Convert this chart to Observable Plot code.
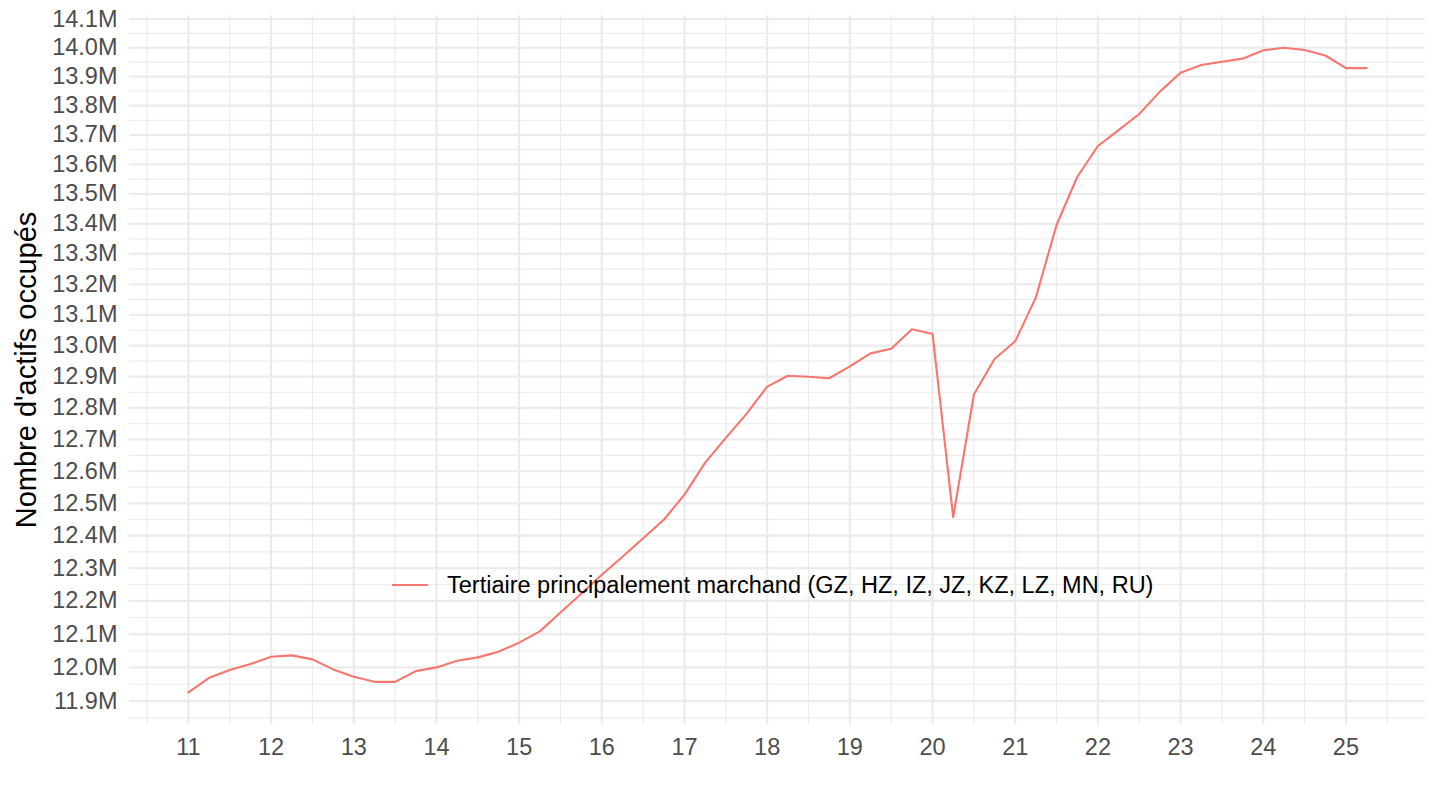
<!DOCTYPE html>
<html>
<head>
<meta charset="utf-8">
<script src="https://cdn.jsdelivr.net/npm/d3@7"></script>
<script src="https://cdn.jsdelivr.net/npm/@observablehq/plot@0.6"></script>
<style>
  html, body { margin: 0; padding: 0; background: #fff; }
  #wrap { position: relative; width: 1440px; height: 810px; font-family: "Liberation Sans", Arial, Helvetica, sans-serif; }
  #legend { position: absolute; left: 392px; top: 570px; height: 30px; display: flex; align-items: center; font-size: 23.5px; color: #000; white-space: nowrap; }
  #legend svg { margin-right: 19px; }
</style>
</head>
<body>
<div id="wrap">
  <div id="chart"></div>
  <div id="legend"></div>
</div>
<script>
// Quarterly dates (decimal years) and employment values (millions)
const dates = [
  2011.00, 2011.25, 2011.50, 2011.75, 2012.00, 2012.25, 2012.50, 2012.75,
  2013.00, 2013.25, 2013.50, 2013.75, 2014.00, 2014.25, 2014.50, 2014.75,
  2015.00, 2015.25, 2015.50, 2015.75, 2016.00, 2016.25, 2016.50, 2016.75,
  2017.00, 2017.25, 2017.50, 2017.75, 2018.00, 2018.25, 2018.50, 2018.75,
  2019.00, 2019.25, 2019.50, 2019.75, 2020.00, 2020.25, 2020.50, 2020.75,
  2021.00, 2021.25, 2021.50, 2021.75, 2022.00, 2022.25, 2022.50, 2022.75,
  2023.00, 2023.25, 2023.50, 2023.75, 2024.00, 2024.25, 2024.50, 2024.75,
  2025.00, 2025.25
];
const valuesM = [
  11.926, 11.969, 11.992, 12.010, 12.032, 12.036, 12.024, 11.994,
  11.972, 11.957, 11.957, 11.989, 12.000, 12.020, 12.030, 12.047,
  12.074, 12.108, 12.165, 12.222, 12.280, 12.335, 12.392, 12.449,
  12.527, 12.627, 12.705, 12.781, 12.868, 12.903, 12.900, 12.895,
  12.933, 12.975, 12.990, 13.053, 13.038, 12.457, 12.843, 12.957,
  13.014, 13.157, 13.396, 13.557, 13.662, 13.716, 13.771, 13.848,
  13.913, 13.940, 13.951, 13.962, 13.991, 14.000, 13.992, 13.973,
  13.929, 13.929
];
const seriesName = "Tertiaire principalement marchand (GZ, HZ, IZ, JZ, KZ, LZ, MN, RU)";
const yTitle = "Nombre d'actifs occupés";
const xTicks = [2011, 2012, 2013, 2014, 2015, 2016, 2017, 2018, 2019, 2020, 2021, 2022, 2023, 2024, 2025];
const yTicksM = [11.9, 12.0, 12.1, 12.2, 12.3, 12.4, 12.5, 12.6, 12.7, 12.8, 12.9, 13.0,
                 13.1, 13.2, 13.3, 13.4, 13.5, 13.6, 13.7, 13.8, 13.9, 14.0, 14.1];
const lineColor = "#F8766D";
const gridColor = "#EBEBEB";

const data = dates.map((t, i) => ({t, v: valuesM[i] * 1e6}));
const yTicks = yTicksM.map(d => d * 1e6);

// ggplot-like 5% expansion (log space for y)
const tExt = d3.extent(dates);
const tPad = (tExt[1] - tExt[0]) * 0.05;
const xDomain = [tExt[0] - tPad, tExt[1] + tPad];
const lExt = d3.extent(data, d => Math.log10(d.v));
const lPad = (lExt[1] - lExt[0]) * 0.05;
const yDomain = [Math.pow(10, lExt[0] - lPad), Math.pow(10, lExt[1] + lPad)];

// minor grid: midpoints (geometric for log y)
const xMinor = [xTicks[0] - 0.5, ...xTicks.map(d => d + 0.5)].filter(d => d >= xDomain[0] && d <= xDomain[1]);
const yExt = [yTicks[0] * yTicks[0] / yTicks[1], ...yTicks, yTicks[yTicks.length - 1] * yTicks[yTicks.length - 1] / yTicks[yTicks.length - 2]];
const yMinor = d3.pairs(yExt).map(([a, b]) => Math.sqrt(a * b)).filter(d => d >= yDomain[0] && d <= yDomain[1]);

const chart = Plot.plot({
  width: 1440,
  height: 810,
  marginTop: 15,
  marginBottom: 86,
  marginLeft: 129,
  marginRight: 15,
  style: {fontFamily: '"Liberation Sans", Arial, Helvetica, sans-serif', fontSize: "23.5px", background: "#fff"},
  x: {domain: xDomain},
  y: {type: "log", domain: yDomain},
  marks: [
    Plot.ruleX(xMinor, {stroke: gridColor, strokeWidth: 1.1}),
    Plot.ruleY(yMinor, {stroke: gridColor, strokeWidth: 1.1}),
    Plot.ruleX(xTicks, {stroke: gridColor, strokeWidth: 2.2}),
    Plot.ruleY(yTicks, {stroke: gridColor, strokeWidth: 2.2}),
    Plot.axisX(xTicks, {tickSize: 0, tickPadding: 14, tickFormat: d => String(d % 100), fill: "#4D4D4D", label: null}),
    Plot.axisY(yTicks, {tickSize: 0, tickPadding: 12, tickFormat: d => (d / 1e6).toFixed(1) + "M", fill: "#4D4D4D", label: null}),
    Plot.line(data, {x: "t", y: "v", stroke: lineColor, strokeWidth: 2.1}),
    Plot.text([yTitle], {frameAnchor: "left", dx: -114, rotate: -90, lineAnchor: "top", textAnchor: "middle", fontSize: 29, fill: "#000"})
  ]
});
document.getElementById("chart").appendChild(chart);

// legend (inside the panel, like the original)
const legend = document.getElementById("legend");
legend.innerHTML = `<svg width="36" height="6"><line x1="0" x2="36" y1="3" y2="3" stroke="${lineColor}" stroke-width="2.1"/></svg><span></span>`;
legend.querySelector("span").textContent = seriesName;
</script>
</body>
</html>
